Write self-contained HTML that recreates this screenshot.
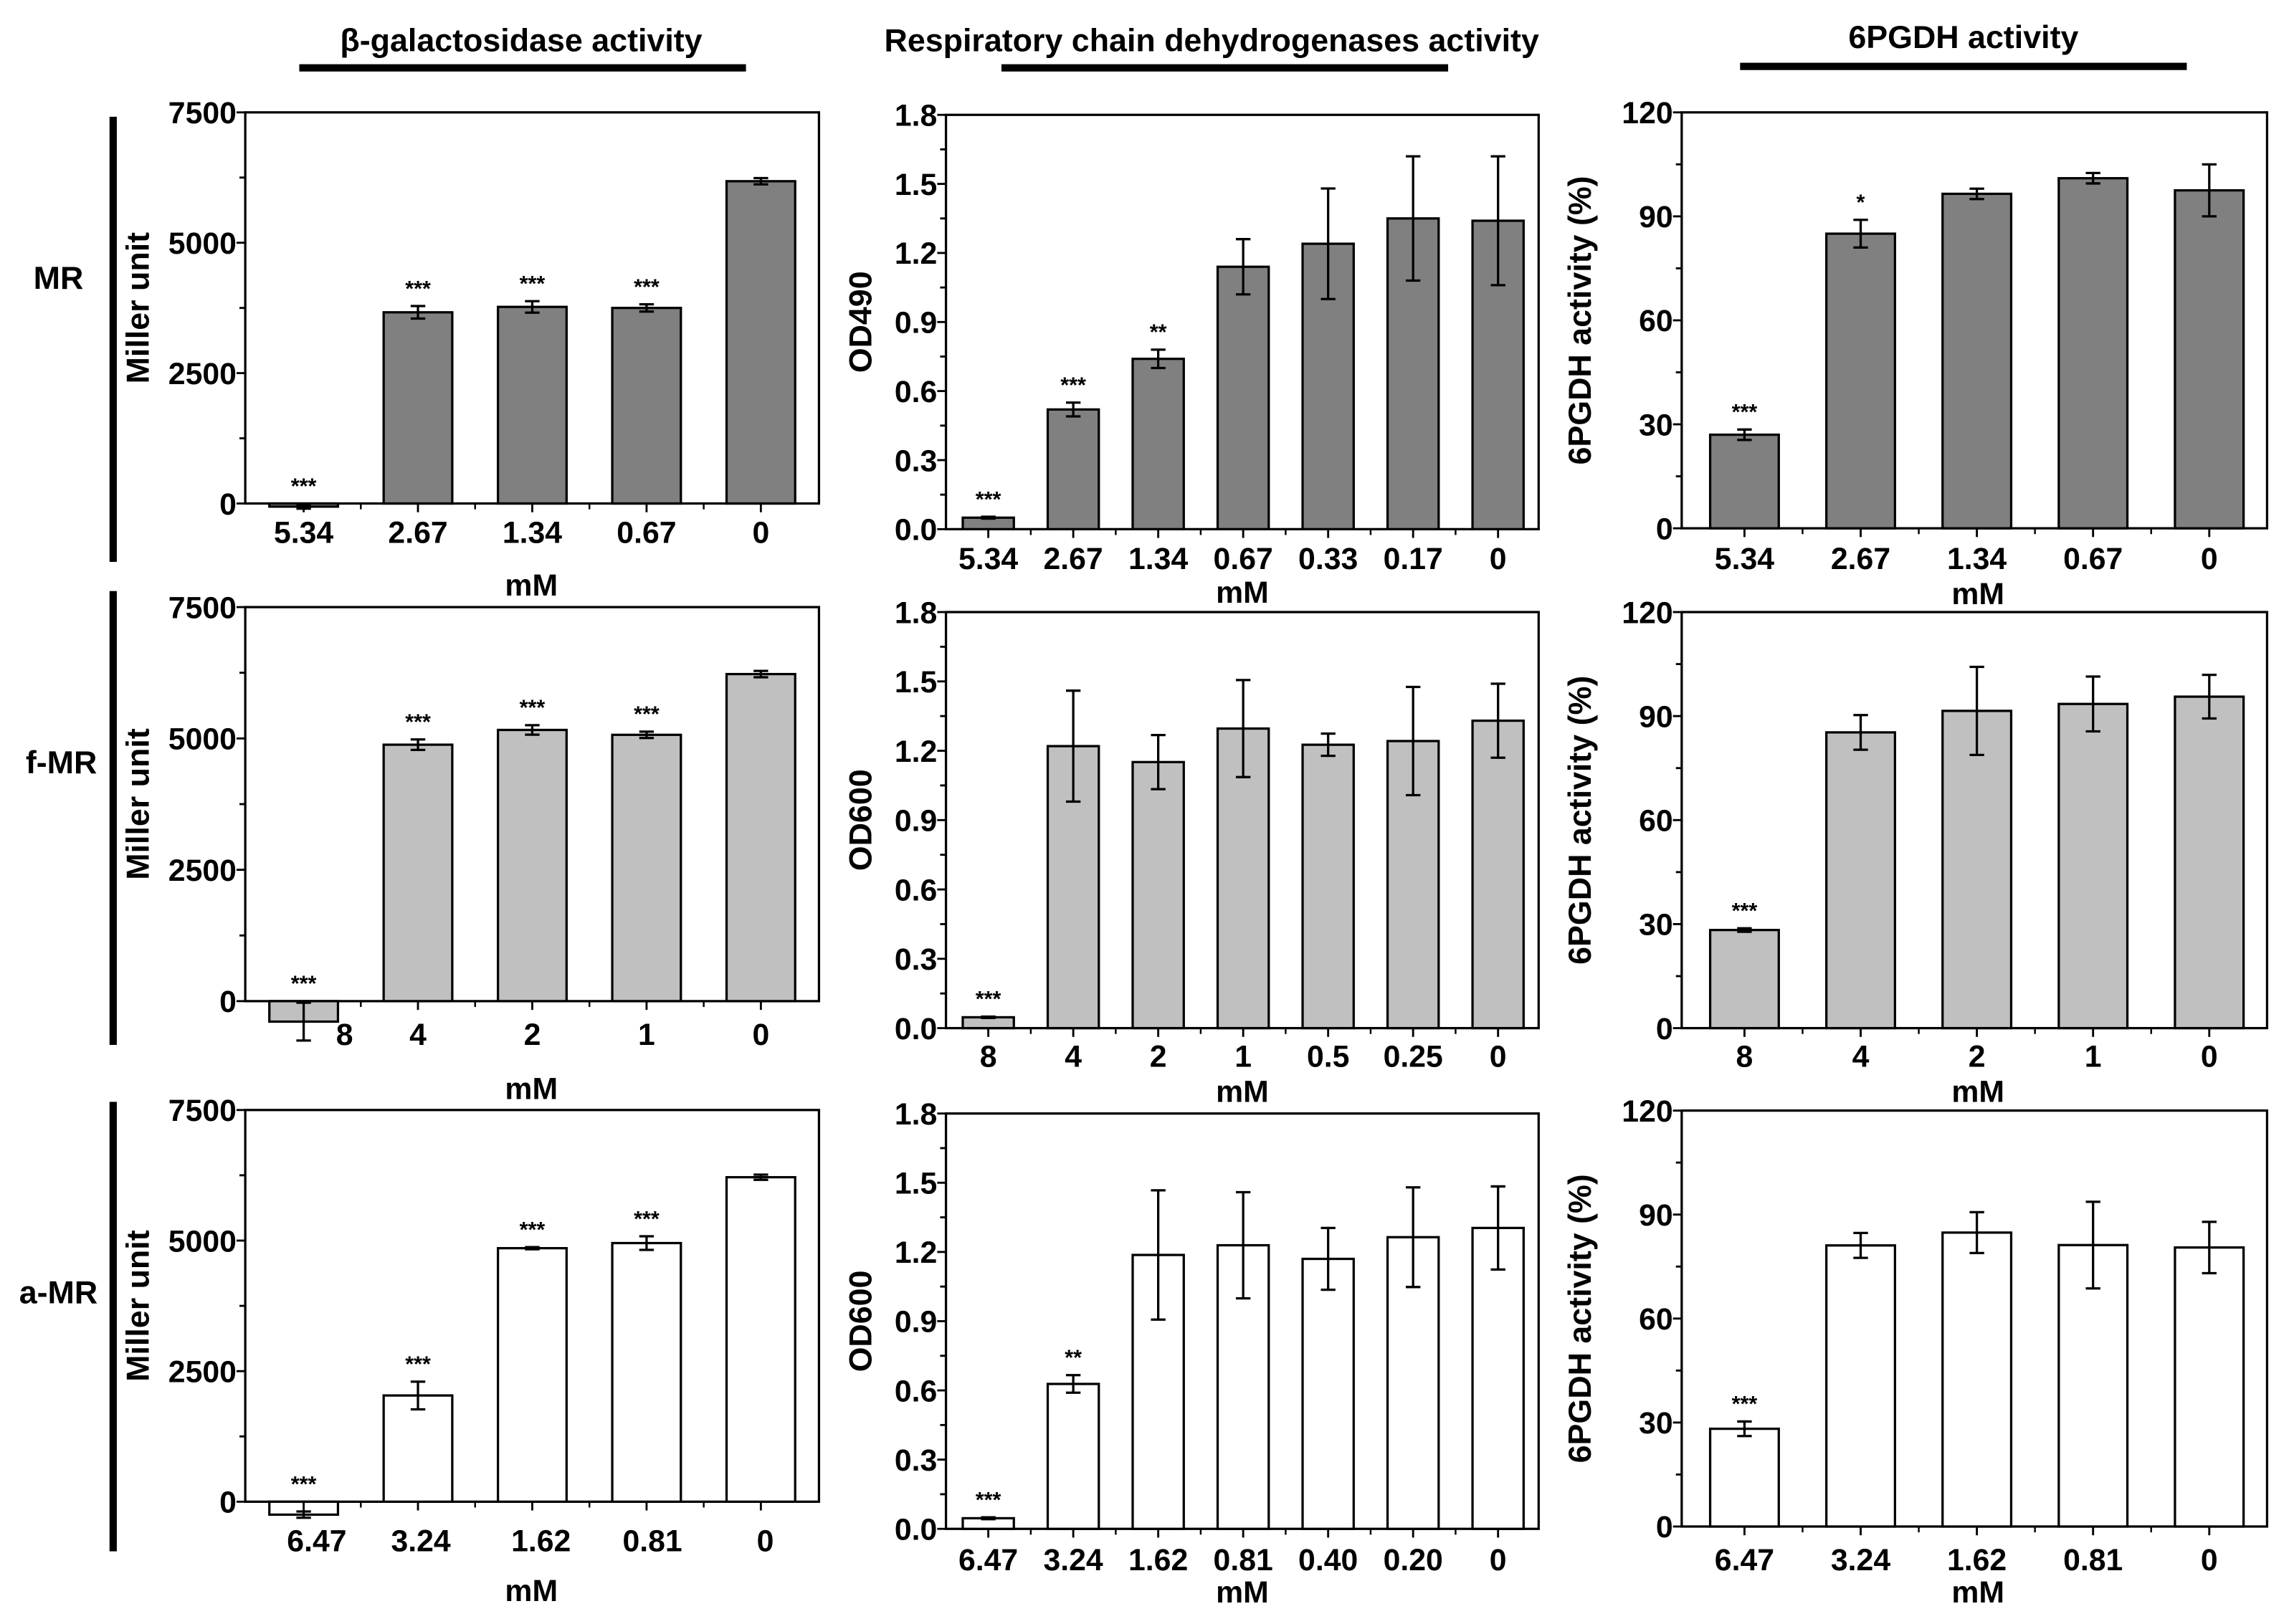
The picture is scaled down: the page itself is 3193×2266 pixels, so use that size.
<!DOCTYPE html>
<html><head><meta charset="utf-8"><title>Enzyme activity panels</title>
<style>
html,body{margin:0;padding:0;background:#fff;}
svg{display:block;font-family:"Liberation Sans",Arial,sans-serif;font-weight:bold;}
</style></head>
<body>
<svg id="fig" xmlns="http://www.w3.org/2000/svg" width="3193" height="2266" viewBox="0 0 1568 1112.8">
<rect x="0" y="0" width="1568" height="1113" fill="#fff"/>
<g>
<text x="357" y="35" font-size="22" text-anchor="middle">β-galactosidase activity</text>
<rect x="205" y="44" width="306" height="5" fill="#000"/>
<text x="830" y="35" font-size="22" text-anchor="middle">Respiratory chain dehydrogenases activity</text>
<rect x="686" y="44" width="306" height="5" fill="#000"/>
<text x="1345" y="33" font-size="22" text-anchor="middle">6PGDH activity</text>
<rect x="1192" y="43" width="306" height="5" fill="#000"/>
</g>
<g>
<text x="40" y="198" font-size="22" text-anchor="middle">MR</text>
<rect x="75" y="80" width="5" height="305" fill="#000"/>
<text x="42" y="530" font-size="22" text-anchor="middle">f-MR</text>
<rect x="75" y="405" width="5" height="311" fill="#000"/>
<text x="40" y="893" font-size="22" text-anchor="middle">a-MR</text>
<rect x="75" y="755" width="5" height="308" fill="#000"/>
</g>
<g id="panels"></g>
</svg>
<script>
// ---- data ----
const catsMR_A = ["5.34","2.67","1.34","0.67","0"];
const valsMR_A = [-60, 3666, 3770, 3750, 6180];
const errsMR_A = [40, 120, 110, 70, 60];
const sigsMR_A = ["***","***","***","***",""];

const catsMR_B = ["5.34","2.67","1.34","0.67","0.33","0.17","0"];
const valsMR_B = [0.05, 0.52, 0.74, 1.14, 1.24, 1.35, 1.34];
const errsMR_B = [0.004, 0.03, 0.04, 0.12, 0.24, 0.27, 0.28];
const sigsMR_B = ["***","***","**","","","",""];

const catsMR_C = ["5.34","2.67","1.34","0.67","0"];
const valsMR_C = [27, 85, 96.5, 101, 97.5];
const errsMR_C = [1.5, 4, 1.5, 1.5, 7.5];
const sigsMR_C = ["***","*","","",""];

const catsF_A = ["8","4","2","1","0"];
const valsF_A = [-390, 4881, 5162, 5069, 6225];
const errsF_A = [360, 100, 90, 60, 60];
const sigsF_A = ["***","***","***","***",""];

const catsF_B = ["8","4","2","1","0.5","0.25","0"];
const valsF_B = [0.047, 1.22, 1.151, 1.296, 1.226, 1.242, 1.33];
const errsF_B = [0.003, 0.24, 0.117, 0.21, 0.048, 0.234, 0.16];
const sigsF_B = ["***","","","","","",""];

const catsF_C = ["8","4","2","1","0"];
const valsF_C = [28.3, 85.3, 91.5, 93.5, 95.6];
const errsF_C = [0.5, 5, 12.7, 7.9, 6.3];
const sigsF_C = ["***","","","",""];

const catsA_A = ["6.47","3.24","1.62","0.81","0"];
const valsA_A = [-248, 2034, 4854, 4952, 6213];
const errsA_A = [60, 265, 20, 130, 50];
const sigsA_A = ["***","***","***","***",""];

const catsA_B = ["6.47","3.24","1.62","0.81","0.40","0.20","0"];
const valsA_B = [0.046, 0.628, 1.187, 1.229, 1.17, 1.264, 1.304];
const errsA_B = [0.004, 0.038, 0.28, 0.23, 0.134, 0.216, 0.18];
const sigsA_B = ["***","**","","","","",""];

const catsA_C = ["6.47","3.24","1.62","0.81","0"];
const valsA_C = [28.2, 81.1, 84.8, 81.2, 80.5];
const errsA_C = [2.1, 3.6, 5.9, 12.5, 7.4];
const sigsA_C = ["***","","","",""];

const ticksA = ["0","2500","5000","7500"];
const ticksB = ["0.0","0.3","0.6","0.9","1.2","1.5","1.8"];
const ticksC = ["0","30","60","90","120"];

// ---- layout ----
const NS = "http://www.w3.org/2000/svg";
const root = document.getElementById("panels");
function mk(tag, attrs, parent){
  const e = document.createElementNS(NS, tag);
  for (const k in attrs) e.setAttribute(k, attrs[k]);
  parent.appendChild(e);
  return e;
}
const colA = {x0:168, x1:561, first:40, step:78.3, barW:47, max:7500, tickStep:2500, minor:1250, ticks:ticksA, title:"Miller unit", titleX:96, mMx:364};
const colB = {x0:648, x1:1054, first:29, step:58.2, barW:35, max:1.8, tickStep:0.3, minor:0.15, ticks:ticksB, titleX:591, mMx:851};
const colC = {x0:1152, x1:1553, first:43, step:79.6, barW:47, max:120, tickStep:30, minor:15, ticks:ticksC, title:"6PGDH activity (%)", titleX:1084, mMx:1355};

const panels = [
 {id:"mr-beta-gal", col:colA, yTop:77, yZero:345, cats:catsMR_A, vals:valsMR_A, errs:errsMR_A, sigs:sigsMR_A, fill:"#808080", labY:372, mMy:408, dx:[0,0,0,0,0]},
 {id:"mr-respiratory", col:colB, yTop:78.7, yZero:362.6, cats:catsMR_B, vals:valsMR_B, errs:errsMR_B, sigs:sigsMR_B, fill:"#808080", labY:390, mMy:413, title:"OD490"},
 {id:"mr-6pgdh", col:colC, yTop:77, yZero:362, cats:catsMR_C, vals:valsMR_C, errs:errsMR_C, sigs:sigsMR_C, fill:"#808080", labY:390, mMy:414},
 {id:"f-mr-beta-gal", col:colA, yTop:416, yZero:686, cats:catsF_A, vals:valsF_A, errs:errsF_A, sigs:sigsF_A, fill:"#c0c0c0", labY:716, mMy:753, dx:[28,0,0,0,0]},
 {id:"f-mr-respiratory", col:colB, yTop:419.4, yZero:704.5, cats:catsF_B, vals:valsF_B, errs:errsF_B, sigs:sigsF_B, fill:"#c0c0c0", labY:731, mMy:755, title:"OD600"},
 {id:"f-mr-6pgdh", col:colC, yTop:419.4, yZero:704.5, cats:catsF_C, vals:valsF_C, errs:errsF_C, sigs:sigsF_C, fill:"#c0c0c0", labY:731, mMy:755},
 {id:"a-mr-beta-gal", col:colA, yTop:760.6, yZero:1029, cats:catsA_A, vals:valsA_A, errs:errsA_A, sigs:sigsA_A, fill:"#ffffff", labY:1063, mMy:1097, dx:[9,2,6,4,3]},
 {id:"a-mr-respiratory", col:colB, yTop:763, yZero:1047.6, cats:catsA_B, vals:valsA_B, errs:errsA_B, sigs:sigsA_B, fill:"#ffffff", labY:1076, mMy:1098, title:"OD600"},
 {id:"a-mr-6pgdh", col:colC, yTop:761, yZero:1046, cats:catsA_C, vals:valsA_C, errs:errsA_C, sigs:sigsA_C, fill:"#ffffff", labY:1076, mMy:1098}
];

panels.forEach(function(p){
  const c = p.col;
  const g = mk("g", {}, root);
  
  
  const y = function(v){ return p.yZero - v / c.max * (p.yZero - p.yTop); };
  const xc = function(i){ return c.x0 + c.first + i * c.step; };

  const frame = mk("rect", {x:c.x0, y:p.yTop, width:c.x1 - c.x0, height:p.yZero - p.yTop, fill:"none", stroke:"#000", "stroke-width":1.6}, g);
  
  

  const nMinor = Math.round(c.max / c.minor);
  for (let k = 0; k <= nMinor; k++){
    const v = k * c.minor;
    const major = Math.abs(v / c.tickStep - Math.round(v / c.tickStep)) < 1e-6;
    const t = mk("line", {x1:c.x0 - (major ? 6 : 4), x2:c.x0, y1:y(v), y2:y(v), stroke:"#000", "stroke-width":1.4}, g);
    
    
  }
  c.ticks.forEach(function(lab, k){
    const t = mk("text", {x:c.x0 - 6, y:y(k * c.tickStep) + 7.5, "font-size":21, "text-anchor":"end"}, g);
    t.textContent = lab;
    
    
  });

  const title = p.title || c.title;
  const cy = (p.yTop + p.yZero) / 2;
  const yt = mk("text", {x:c.titleX, y:cy, "font-size":22, "text-anchor":"middle", transform:"rotate(-90 " + c.titleX + " " + cy + ")", "dominant-baseline":"middle"}, g);
  yt.textContent = title;
  
  

  p.vals.forEach(function(v, i){
    const x = xc(i);
    const top = Math.min(y(v), y(0)), bot = Math.max(y(v), y(0));
    const b = mk("rect", {x:x - c.barW / 2, y:top, width:c.barW, height:Math.max(bot - top, 1), fill:p.fill, stroke:"#000", "stroke-width":1.6}, g);
    
    
    const e = p.errs[i];
    const hi = y(v + e), lo = y(v - e);
    const el = mk("path", {d:"M" + x + " " + hi + "V" + lo + "M" + (x - 5) + " " + hi + "H" + (x + 5) + "M" + (x - 5) + " " + lo + "H" + (x + 5), stroke:"#000", "stroke-width":1.6, fill:"none"}, g);
    
    
    if (p.sigs[i]){
      const sy = Math.min(hi, y(0)) - 7;
      const s = mk("text", {x:x, y:sy, "font-size":15, "text-anchor":"middle"}, g);
      s.textContent = p.sigs[i];
      
      
    }
    const xt = mk("line", {x1:x, x2:x, y1:p.yZero, y2:p.yZero + 6, stroke:"#000", "stroke-width":1.4}, g);
    
    
    if (i < p.vals.length - 1){
      const mt = mk("line", {x1:x + c.step / 2, x2:x + c.step / 2, y1:p.yZero, y2:p.yZero + 4, stroke:"#000", "stroke-width":1.2}, g);
      
      
    }
    const dx = p.dx ? p.dx[i] : 0;
    const xl = mk("text", {x:x + dx, y:p.labY, "font-size":21, "text-anchor":"middle"}, g);
    xl.textContent = p.cats[i];
    
    
  });

  const m = mk("text", {x:c.mMx, y:p.mMy, "font-size":21, "text-anchor":"middle"}, g);
  m.textContent = "mM";
  
  
});
</script>
</body></html>
